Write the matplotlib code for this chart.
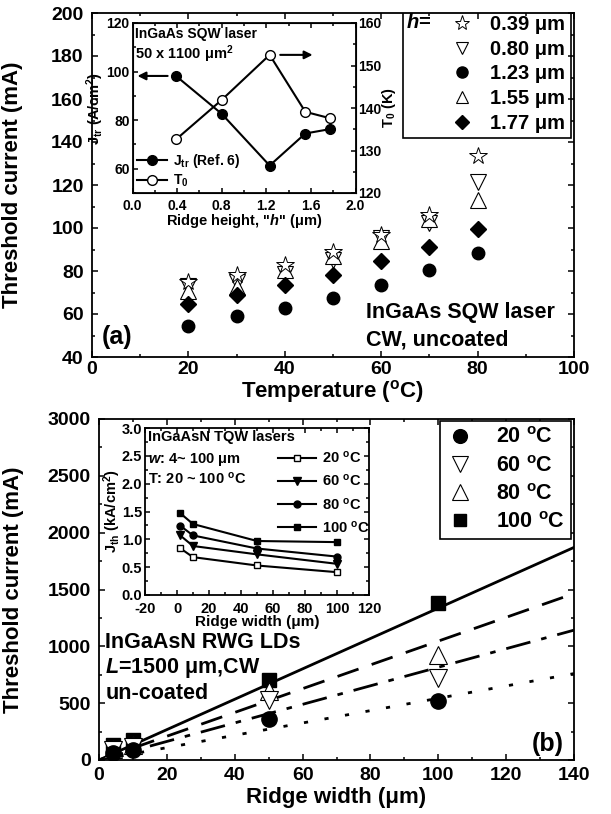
#!/usr/bin/env python3
# -*- coding: utf-8 -*-

#------------------------------------------------------------------------------
# IMPORT PYTHON LIBRARIES
#------------------------------------------------------------------------------
import numpy as np
import matplotlib
matplotlib.use('Agg')
import matplotlib.pyplot as plt; plt.close('all')
import matplotlib.ticker as mticker
from matplotlib.lines import Line2D
from matplotlib.patches import Rectangle

#------------------------------------------------------------------------------
# SETTINGS:
#------------------------------------------------------------------------------
plt.rcParams['font.family'] = ['Liberation Sans', 'DejaVu Sans']
plt.rcParams['font.weight'] = 'bold'
plt.rcParams['axes.labelweight'] = 'bold'
plt.rcParams['axes.unicode_minus'] = False
plt.rcParams['mathtext.fontset'] = 'custom'
plt.rcParams['mathtext.rm'] = 'Liberation Sans:bold'
plt.rcParams['mathtext.bf'] = 'Liberation Sans:bold'
plt.rcParams['mathtext.it'] = 'Liberation Sans:italic:bold'
plt.rcParams['mathtext.default'] = 'rm'

W, H = 611, 814
fontsize = 16

#------------------------------------------------------------------------------
# DATA: (a) threshold current vs temperature, InGaAs SQW
#------------------------------------------------------------------------------
temp_a = [20, 30, 40, 50, 60, 70, 80]
ith_039 = [75.0, 78.0, 83.0, 89.0, 96.7, 105.9, 133.5]
ith_080 = [73.0, 75.1, 78.7, 85.3, 95.5, 102.5, 121.4]
ith_123 = [54.5, 59.0, 62.8, 67.5, 73.6, 80.3, 88.4]
ith_155 = [70.5, 72.4, 80.6, 86.8, 93.9, 104.0, 113.0]
ith_177 = [64.7, 68.8, 73.4, 78.1, 84.5, 91.2, 99.5]
h_labels = ['0.39 μm', '0.80 μm', '1.23 μm', '1.55 μm', '1.77 μm']

# inset (a): Jtr and T0 vs ridge height
h_in = [0.39, 0.80, 1.23, 1.55, 1.77]
jtr = [98.2, 82.6, 61.3, 74.5, 76.3]
t0 = [132.6, 141.9, 152.5, 139.1, 137.6]

#------------------------------------------------------------------------------
# DATA: (b) threshold current vs ridge width, InGaAsN RWG
#------------------------------------------------------------------------------
width_b = [4, 10, 50, 100]
ith_20C = [65, 90, 358, 519]
ith_60C = [85, 115, 525, 725]
ith_80C = [100, 135, 607, 922]
ith_100C = [130, 180, 708, 1380]
# linear fits (mA per um): 20, 60, 80, 100 C
fit_slope = [5.43, 8.16, 10.46, 13.36]
b_labels = ['20 $^{o}$C', '60 $^{o}$C', '80 $^{o}$C', '100 $^{o}$C']

# inset (b): Jth vs ridge width
width_in = [2, 10, 50, 100]
jth_20C = [0.84, 0.68, 0.53, 0.41]
jth_60C = [1.07, 0.88, 0.73, 0.56]
jth_80C = [1.245, 1.07, 0.835, 0.69]
jth_100C = [1.47, 1.275, 0.97, 0.95]

#------------------------------------------------------------------------------
# HELPERS
#------------------------------------------------------------------------------
def box(l, t, r, b):
    return [l/W, 1-b/H, (r-l)/W, (b-t)/H]

def style_axes(ax, size, major=4, minor=2.2):
    ax.tick_params(which='both', direction='in', top=True, right=True, width=1.1, labelsize=size)
    ax.tick_params(which='major', length=major)
    ax.tick_params(which='minor', length=minor)
    for s in ax.spines.values():
        s.set_linewidth(1.3)

fig = plt.figure(figsize=(W/100, H/100), dpi=100)

#------------------------------------------------------------------------------
# PLOT: (a)
#------------------------------------------------------------------------------
ax = fig.add_axes(box(92, 13, 574, 357))
ax.plot(temp_a, ith_080, 'v', ms=11, mfc='white', mec='black', mew=0.8, ls='None')
ax.plot(temp_a, ith_155, '^', ms=11, mfc='white', mec='black', mew=0.8, ls='None')
ax.plot(temp_a, ith_039, '*', ms=13, mfc='white', mec='black', mew=0.7, ls='None')
ax.plot(temp_a, ith_123, 'o', ms=9, color='black', ls='None')
ax.plot(temp_a, ith_177, 'D', ms=8, color='black', ls='None')
ax.set_xlim(0, 100)
ax.set_ylim(40, 200)
ax.xaxis.set_major_locator(mticker.MultipleLocator(20))
ax.xaxis.set_minor_locator(mticker.MultipleLocator(10))
ax.yaxis.set_major_locator(mticker.MultipleLocator(20))
ax.yaxis.set_minor_locator(mticker.MultipleLocator(10))
style_axes(ax, 14)
ax.tick_params(axis='y', pad=6)
ax.tick_params(axis='x', pad=3)
ax.set_xlabel('Temperature ($^{o}$C)', fontsize=fontsize, labelpad=0)
ax.set_ylabel('Threshold current (mA)', fontsize=fontsize)
ax.yaxis.set_label_coords(-0.143, 0.5)
ax.text(0.568, 0.128, 'InGaAs SQW laser', transform=ax.transAxes, fontsize=15.5, va='center')
ax.text(0.568, 0.049, 'CW, uncoated', transform=ax.transAxes, fontsize=15.5, va='center')
ax.text(0.052, 0.058, '(a)', transform=ax.transAxes, fontsize=18, ha='center', va='center')

# legend (a)
ax.add_patch(Rectangle(((403-92)/482, (357-138)/344), (571-403)/482, (138-12)/344,
                       transform=ax.transAxes, fill=False, lw=1.2, ec='black', zorder=5))
ax.text((406-92)/482, (357-23)/344, '$\\mathit{h}$=', transform=ax.transAxes, fontsize=14.5, va='center')
hdl = [Line2D([], [], marker='*', ms=11, mfc='white', mec='black', mew=0.7, ls='None'),
       Line2D([], [], marker='v', ms=9, mfc='white', mec='black', mew=0.8, ls='None'),
       Line2D([], [], marker='o', ms=8, color='black', ls='None'),
       Line2D([], [], marker='^', ms=9, mfc='white', mec='black', mew=0.8, ls='None'),
       Line2D([], [], marker='D', ms=7, color='black', ls='None')]
ax.legend(hdl, h_labels, loc='upper right', bbox_to_anchor=((569-92)/482, (357-11)/344),
          frameon=False, fontsize=14.5, handlelength=1.2, handletextpad=0.8,
          labelspacing=0.28, borderpad=0.2, borderaxespad=0)

# inset (a)
axi = fig.add_axes(box(132.5, 23, 355.5, 193))
axi.plot(h_in, jtr, '-o', color='black', lw=1.5, ms=7, label='J$_{tr}$ (Ref. 6)')
axi.set_xlim(0, 2.0)
axi.set_ylim(50, 120)
axi.xaxis.set_major_locator(mticker.MultipleLocator(0.4))
axi.xaxis.set_minor_locator(mticker.MultipleLocator(0.2))
axi.yaxis.set_major_locator(mticker.MultipleLocator(20))
axi.yaxis.set_minor_locator(mticker.MultipleLocator(10))
axi.xaxis.set_major_formatter(mticker.FormatStrFormatter('%.1f'))
style_axes(axi, 10, 3.5, 2)
axi.tick_params(right=False)
axi.tick_params(axis='y', pad=2)
axi.tick_params(axis='x', pad=4.5)
axi.set_xlabel('Ridge height, "$\\mathit{h}$" (μm)', fontsize=10.5, labelpad=-1)
axi.set_ylabel('J$_{tr}$ (A/cm$^2$)', fontsize=10.5, labelpad=0)
axi2 = axi.twinx()
axi2.plot(h_in, t0, '-o', color='black', lw=1.5, ms=7, mfc='white', label='T$_0$')
axi2.set_ylim(120, 160)
axi2.yaxis.set_major_locator(mticker.MultipleLocator(10))
axi2.yaxis.set_minor_locator(mticker.MultipleLocator(5))
axi2.tick_params(which='both', direction='in', width=1.1, labelsize=10, pad=2)
axi2.tick_params(which='major', length=3.5)
axi2.tick_params(which='minor', length=2)
axi2.set_ylabel('T$_0$ (K)', fontsize=10.5, labelpad=-1)
axi.annotate('', xy=(0.02, jtr[0]), xytext=(0.34, jtr[0]),
             arrowprops=dict(arrowstyle='-|>', color='black', lw=1.5, mutation_scale=12))
axi2.annotate('', xy=(1.64, t0[2]), xytext=(1.30, t0[2]),
              arrowprops=dict(arrowstyle='-|>', color='black', lw=1.5, mutation_scale=12))
axi.text(0.01, 0.935, 'InGaAs SQW laser', transform=axi.transAxes, fontsize=10, va='center')
axi.text(0.01, 0.815, '50 x 1100 μm$^2$', transform=axi.transAxes, fontsize=10.5, va='center')
h1, l1 = axi.get_legend_handles_labels()
h2, l2 = axi2.get_legend_handles_labels()
axi.legend(h1+h2, l1+l2, loc='lower left', frameon=False, fontsize=10, handlelength=2.2,
           handletextpad=0.4, labelspacing=0.15, borderpad=0.2, borderaxespad=0.1)

#------------------------------------------------------------------------------
# PLOT: (b)
#------------------------------------------------------------------------------
bx = fig.add_axes(box(99, 419, 574, 760))
xfit = np.array([0, 140])
bx.plot(xfit, fit_slope[3]*xfit, '-', color='black', lw=2)
bx.plot(xfit, fit_slope[2]*xfit, '-', color='black', lw=2, dashes=(8, 5))
bx.plot(xfit, fit_slope[1]*xfit, '-', color='black', lw=2, dashes=(9, 4, 2, 4))
bx.plot(xfit, fit_slope[0]*xfit, '-', color='black', lw=2, dashes=(1.5, 6))
bx.plot(width_b, ith_100C, 's', ms=10, color='black', ls='None', label=b_labels[3])
bx.plot(width_b, ith_80C, '^', ms=13, mfc='white', mec='black', mew=0.8, ls='None', label=b_labels[2])
bx.plot(width_b, ith_60C, 'v', ms=13, mfc='white', mec='black', mew=0.8, ls='None', label=b_labels[1])
bx.plot(width_b, ith_20C, 'o', ms=11, color='black', ls='None', label=b_labels[0])
bx.set_xlim(0, 140)
bx.set_ylim(0, 3000)
bx.xaxis.set_major_locator(mticker.MultipleLocator(20))
bx.xaxis.set_minor_locator(mticker.MultipleLocator(10))
bx.yaxis.set_major_locator(mticker.MultipleLocator(500))
bx.yaxis.set_minor_locator(mticker.MultipleLocator(250))
style_axes(bx, 14)
bx.tick_params(axis='y', pad=6)
bx.tick_params(axis='x', pad=5)
bx.set_xlabel('Ridge width (μm)', fontsize=fontsize, labelpad=2)
bx.set_ylabel('Threshold current (mA)', fontsize=fontsize)
bx.yaxis.set_label_coords(-0.158, 0.5)
bx.text(0.013, 0.344, 'InGaAsN RWG LDs', transform=bx.transAxes, fontsize=15.5, va='center')
bx.text(0.013, 0.270, '$\\mathit{L}$=1500 μm,CW', transform=bx.transAxes, fontsize=15.5, va='center')
bx.text(0.013, 0.196, 'un-coated', transform=bx.transAxes, fontsize=15.5, va='center')
bx.text(0.945, 0.047, '(b)', transform=bx.transAxes, fontsize=18, ha='center', va='center')
hb, lb = bx.get_legend_handles_labels()
leg = bx.legend(hb[::-1], lb[::-1], loc='upper right', bbox_to_anchor=((571-99)/475, (760-421)/341),
                fontsize=15.5, fancybox=False, edgecolor='black', framealpha=1, markerscale=0.9,
                handlelength=1.3, handletextpad=1.0, labelspacing=0.33, borderpad=0.3, borderaxespad=0)
leg.get_frame().set_linewidth(1.2)

# inset (b)
bxi = fig.add_axes(box(145, 428, 369, 595))
bxi.plot(width_in, jth_20C, '-s', color='black', lw=1.5, ms=5, mfc='white', label='20 $^{o}$C')
bxi.plot(width_in, jth_60C, '-v', color='black', lw=1.5, ms=5.5, label='60 $^{o}$C')
bxi.plot(width_in, jth_80C, '-o', color='black', lw=1.5, ms=5, label='80 $^{o}$C')
bxi.plot(width_in, jth_100C, '-s', color='black', lw=1.5, ms=5, label='100 $^{o}$C')
bxi.set_xlim(-20, 120)
bxi.set_ylim(0, 3.0)
bxi.xaxis.set_major_locator(mticker.MultipleLocator(20))
bxi.xaxis.set_minor_locator(mticker.MultipleLocator(10))
bxi.yaxis.set_major_locator(mticker.MultipleLocator(0.5))
bxi.yaxis.set_minor_locator(mticker.MultipleLocator(0.25))
bxi.yaxis.set_major_formatter(mticker.FormatStrFormatter('%.1f'))
style_axes(bxi, 10.5, 3.5, 2)
bxi.tick_params(axis='y', pad=2)
bxi.tick_params(axis='x', pad=5)
bxi.set_xlabel('Ridge width (μm)', fontsize=11, labelpad=-1)
bxi.set_ylabel('J$_{th}$ (kA/cm$^2$)', fontsize=10.5, labelpad=-1)
bxi.text(0.013, 0.946, 'InGaAsN TQW lasers', transform=bxi.transAxes, fontsize=10.5, va='center')
bxi.text(0.013, 0.814, '$\\mathit{w}$: 4~ 100 μm', transform=bxi.transAxes, fontsize=10.5, va='center')
bxi.text(0.013, 0.695, 'T: 20 ~ 100 $^{o}$C', transform=bxi.transAxes, fontsize=10.5, va='center')
bxi.legend(loc='upper right', bbox_to_anchor=(1.0, 0.87), frameon=False, fontsize=10.5,
           handlelength=2.6, handletextpad=0.4, labelspacing=0.5, borderpad=0, borderaxespad=0)

plt.savefig('out.png', dpi=100)
plt.close(fig)
print('** END')
